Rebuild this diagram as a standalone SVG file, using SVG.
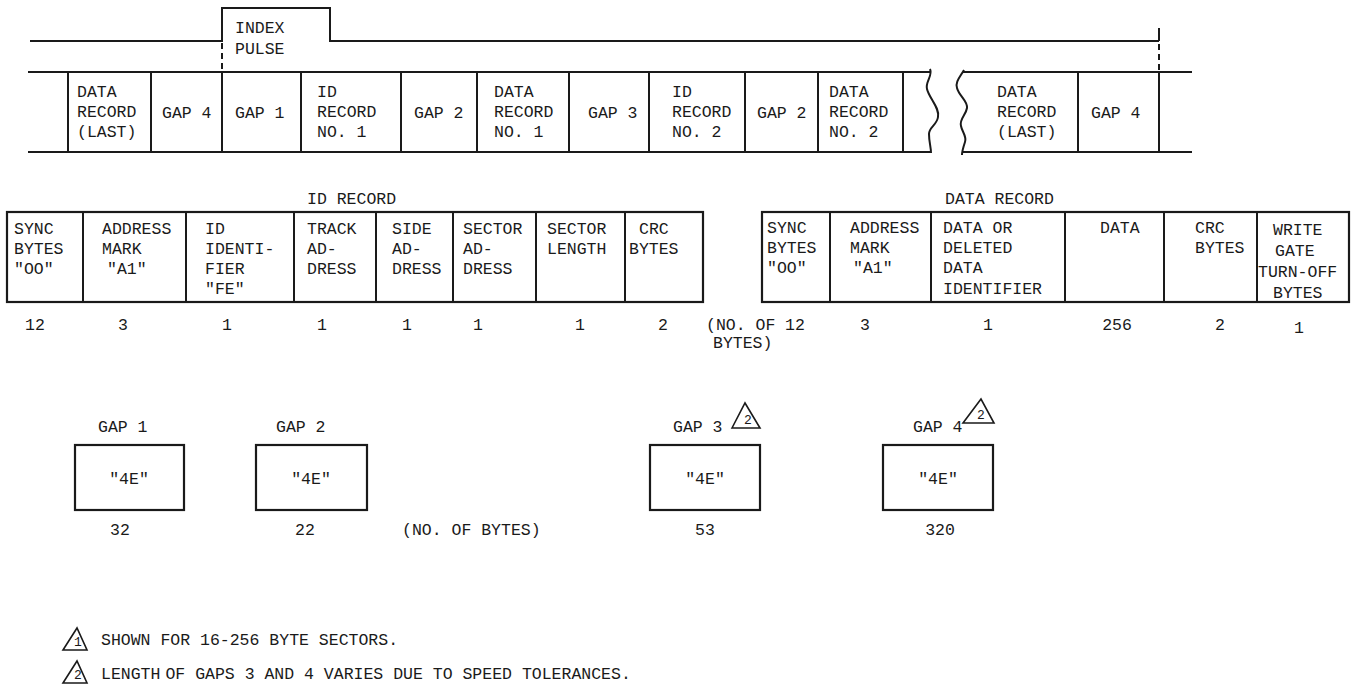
<svg xmlns="http://www.w3.org/2000/svg" width="1355" height="691" viewBox="0 0 1355 691">
<style>
text{font-family:"Liberation Mono","DejaVu Sans Mono",monospace;font-size:16.5px;fill:#1a1a1a}
.c{text-anchor:middle}
.sm{font-size:13px}
.ln{fill:none;stroke:#1a1a1a;stroke-width:2}
.dash{fill:none;stroke:#1a1a1a;stroke-width:2;stroke-dasharray:6 4}
.box{fill:#fff;stroke:#1a1a1a;stroke-width:2.2}
.tri{fill:none;stroke:#1a1a1a;stroke-width:1.6}
</style>
<rect width="1355" height="691" fill="#fff"/>

<g id="connectors">
  <path class="ln" d="M30,41 H222 V8 H330 V41 H1159"/>
  <path class="ln" d="M1159,28 V41"/>
  <path class="dash" d="M222,43 V72"/>
  <path class="dash" d="M1159,44 V70"/>
</g>

<g id="track-row">
  <path class="ln" d="M28,72 H931 M28,152 H931 M963,72 H1192 M962,152 H1192"/>
  <path class="ln" d="M68,72V152 M151,72V152 M222,72V152 M301,72V152 M401,72V152 M477,72V152 M569,72V152 M649,72V152 M745,72V152 M818,72V152 M903,72V152 M1078,72V152 M1159,72V152"/>
  <path class="ln" d="M930,69 C933,76 925,82 927,89 C929,98 940,108 938,117 C937,125 929,127 929,134 C929,142 931,147 931,153"/>
  <path class="ln" d="M964,70 C960,77 955,82 957,88 C959,96 968,101 967,108 C966,115 959,119 961,126 C962,132 967,136 965,142 C963,148 962,151 962,155"/>
  <g id="t-data-last-1"><text x="77" y="97">DATA</text><text x="77" y="117">RECORD</text><text x="77" y="137">(LAST)</text></g>
  <g id="t-gap4-1"><text x="162" y="118">GAP 4</text></g>
  <g id="t-gap1"><text x="235" y="118">GAP 1</text></g>
  <g id="t-id1"><text x="317" y="97">ID</text><text x="317" y="117">RECORD</text><text x="317" y="137">NO. 1</text></g>
  <g id="t-gap2-1"><text x="414" y="118">GAP 2</text></g>
  <g id="t-data1"><text x="494" y="97">DATA</text><text x="494" y="117">RECORD</text><text x="494" y="137">NO. 1</text></g>
  <g id="t-gap3"><text x="588" y="118">GAP 3</text></g>
  <g id="t-id2"><text x="672" y="97">ID</text><text x="672" y="117">RECORD</text><text x="672" y="137">NO. 2</text></g>
  <g id="t-gap2-2"><text x="757" y="118">GAP 2</text></g>
  <g id="t-data2"><text x="829" y="97">DATA</text><text x="829" y="117">RECORD</text><text x="829" y="137">NO. 2</text></g>
  <g id="t-data-last-2"><text x="997" y="97">DATA</text><text x="997" y="117">RECORD</text><text x="997" y="137">(LAST)</text></g>
  <g id="t-gap4-2"><text x="1091" y="118">GAP 4</text></g>
</g>

<g id="index-pulse"><text x="235" y="33">INDEX</text><text x="235" y="54">PULSE</text></g>

<g id="id-record">
  <text x="307" y="204">ID RECORD</text>
  <rect class="box" x="7" y="212" width="696" height="90"/>
  <path class="ln" d="M83,212V302 M186,212V302 M294,212V302 M376,212V302 M453,212V302 M536,212V302 M625,212V302"/>
  <text x="14" y="234">SYNC</text><text x="14" y="254">BYTES</text><text x="14" y="274">"OO"</text>
  <text x="102" y="234">ADDRESS</text><text x="102" y="254">MARK</text><text x="107" y="274">"A1"</text>
  <text x="205" y="234">ID</text><text x="205" y="254">IDENTI-</text><text x="205" y="274">FIER</text><text x="205" y="294">"FE"</text>
  <text x="307" y="234">TRACK</text><text x="307" y="254">AD-</text><text x="307" y="274">DRESS</text>
  <text x="392" y="234">SIDE</text><text x="392" y="254">AD-</text><text x="392" y="274">DRESS</text>
  <text x="463" y="234">SECTOR</text><text x="463" y="254">AD-</text><text x="463" y="274">DRESS</text>
  <text x="547" y="234">SECTOR</text><text x="547" y="254">LENGTH</text>
  <text x="639" y="234">CRC</text><text x="629" y="254">BYTES</text>
  <text class="c" x="35" y="330">12</text><text class="c" x="123" y="330">3</text><text class="c" x="227" y="330">1</text><text class="c" x="322" y="330">1</text>
  <text class="c" x="407" y="330">1</text><text class="c" x="478" y="330">1</text><text class="c" x="580" y="330">1</text><text class="c" x="663" y="330">2</text>
  <text x="706" y="330">(NO. OF</text><text x="713" y="348">BYTES)</text>
</g>

<g id="data-record">
  <text x="945" y="204">DATA RECORD</text>
  <rect class="box" x="762" y="212" width="587" height="90"/>
  <path class="ln" d="M830,212V302 M931,212V302 M1065,212V302 M1164,212V302 M1257,212V302"/>
  <text x="767" y="233">SYNC</text><text x="767" y="253">BYTES</text><text x="767" y="273">"OO"</text>
  <text x="850" y="233">ADDRESS</text><text x="850" y="253">MARK</text><text x="853" y="273">"A1"</text>
  <text x="943" y="233">DATA OR</text><text x="943" y="253">DELETED</text><text x="943" y="273">DATA</text><text x="943" y="294">IDENTIFIER</text>
  <text x="1100" y="233">DATA</text>
  <text x="1195" y="233">CRC</text><text x="1195" y="253">BYTES</text>
  <text x="1273" y="235">WRITE</text><text x="1275" y="256">GATE</text><text x="1258" y="277">TURN-OFF</text><text x="1273" y="298">BYTES</text>
  <text class="c" x="795" y="330">12</text><text class="c" x="865" y="330">3</text><text class="c" x="988" y="330">1</text>
  <text class="c" x="1117" y="330">256</text><text class="c" x="1220" y="330">2</text><text class="c" x="1299" y="333">1</text>
</g>

<g id="gap1-box">
  <text x="98" y="432">GAP 1</text>
  <rect class="box" x="75" y="445" width="109" height="65"/>
  <text class="c" x="129" y="484">"4E"</text>
  <text class="c" x="120" y="535">32</text>
</g>
<g id="gap2-box">
  <text x="276" y="432">GAP 2</text>
  <rect class="box" x="256" y="445" width="111" height="65"/>
  <text class="c" x="311" y="484">"4E"</text>
  <text class="c" x="305" y="535">22</text>
</g>
<g id="gap-units"><text x="402" y="535">(NO. OF BYTES)</text></g>
<g id="gap3-box">
  <text x="673" y="432">GAP 3</text>
  <path class="tri" d="M732,428 L745,403 L760,428 Z"/>
  <text class="c sm" x="748" y="424">2</text>
  <rect class="box" x="650" y="445" width="110" height="65"/>
  <text class="c" x="705" y="484">"4E"</text>
  <text class="c" x="705" y="535">53</text>
</g>
<g id="gap4-box">
  <text x="913" y="432">GAP 4</text>
  <path class="tri" d="M963,423 L981,399 L994,423 Z"/>
  <text class="c sm" x="981" y="419">2</text>
  <rect class="box" x="883" y="445" width="110" height="65"/>
  <text class="c" x="938" y="484">"4E"</text>
  <text class="c" x="940" y="535">320</text>
</g>

<g id="footnotes">
  <path class="tri" d="M63,650 L77,628 L87,650 Z"/>
  <text class="c sm" x="78" y="646">1</text>
  <text x="101" y="645">SHOWN FOR 16-256 BYTE SECTORS.</text>
  <path class="tri" d="M63,683 L77,661 L87,683 Z"/>
  <text class="c sm" x="78" y="679">2</text>
  <text x="101" y="679">LENGTH<tspan dx="5">OF GAPS 3 AND 4 VARIES DUE TO SPEED TOLERANCES.</tspan></text>
</g>
</svg>
